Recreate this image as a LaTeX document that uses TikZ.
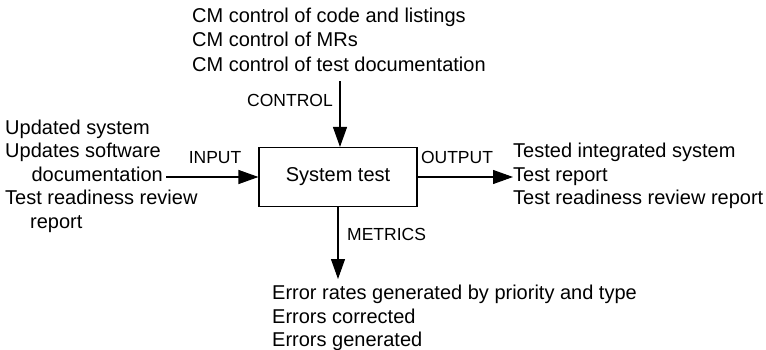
\documentclass[tikz,border=0pt]{standalone}
\usepackage{fontspec}
\setmainfont{Liberation Sans}
\usetikzlibrary{arrows.meta}
\tikzset{
  txt/.style={inner sep=0pt, font=\fontsize{20}{23.5}\selectfont},
  lbl/.style={inner sep=0pt, font=\fontsize{17.5}{20}\selectfont},
  arr/.style={line width=1.1pt, -{Triangle[length=20pt,width=14pt]}},
  boxst/.style={draw, line width=1.1pt, minimum width=158pt, minimum height=59pt, inner sep=0pt, font=\fontsize{20}{23.5}\selectfont},
}
\begin{document}
\begin{tikzpicture}[x=1pt,y=1pt]
\useasboundingbox (0,0) rectangle (766,349);
% box
\node[boxst] (box) at (338,172) {System test};
% top texts
\node[txt, anchor=base west] (t1) at (192,326) {CM control of code and listings};
\node[txt, anchor=base west] (t2) at (192,302) {CM control of MRs};
\node[txt, anchor=base west] (t3) at (192,278) {CM control of test documentation};
\coordinate (ctop) at (340,268);
\draw[arr] (ctop) -- (ctop |- box.north);
\node[lbl, anchor=base east] (lc) at (333,243) {CONTROL};
% left texts
\node[txt, anchor=base west] (l1) at (5,215) {Updated system};
\node[txt, anchor=base west] (l2) at (5,192) {Updates software};
\node[txt, anchor=base east] (l3) at (163,168) {documentation};
\node[txt, anchor=base west] (l4) at (5,145) {Test readiness review};
\node[txt, anchor=base west] (l5) at (30,121) {report};
\draw[arr] ([xshift=3pt]l3.east |- box.center) -- (box.west);
\node[lbl, anchor=base] (li) at (215,186) {INPUT};
% right texts
\node[txt, anchor=base west] (r1) at (513,192) {Tested integrated system};
\node[txt, anchor=base west] (r2) at (513,168) {Test report};
\node[txt, anchor=base west] (r3) at (513,145) {Test readiness review report};
\draw[arr] (box.east) -- (box.east -| r2.west);
\node[lbl, anchor=base] (lo) at (457,186) {OUTPUT};
% bottom texts
\node[txt, anchor=base west] (b1) at (272,50) {Error rates generated by priority and type};
\node[txt, anchor=base west] (b2) at (272,26) {Errors corrected};
\node[txt, anchor=base west] (b3) at (272,3) {Errors generated};
\coordinate (mbot) at (box.south |- 0,70);
\draw[arr] (box.south) -- (mbot);
\node[lbl, anchor=base west] (lm) at (347,109) {METRICS};
\end{tikzpicture}
\end{document}
